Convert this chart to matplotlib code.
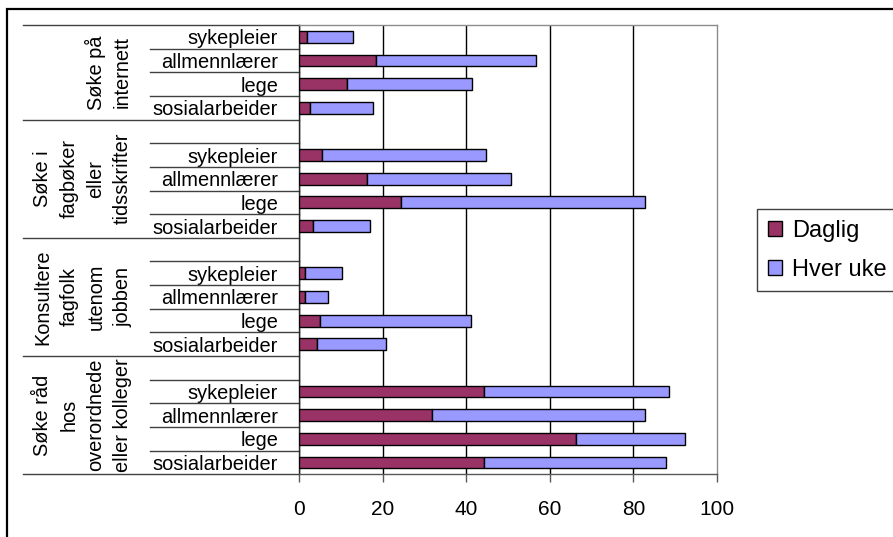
import matplotlib
matplotlib.use("Agg")
import matplotlib.pyplot as plt
from matplotlib.transforms import blended_transform_factory
from matplotlib.patches import Rectangle

plt.rcParams['font.family'] = ['Liberation Sans', 'DejaVu Sans']

# yrkesgrupper innenfor hver kategori (nederst til øverst)
yrker = ["sosialarbeider", "lege", "allmennlærer", "sykepleier"]
grupper = [
    "Søke råd\nhos\noverordnede\neller kolleger",
    "Konsultere\nfagfolk\nutenom\njobben",
    "Søke i\nfagbøker\neller\ntidsskrifter",
    "Søke på\ninternett",
]

# prosent daglig / hver uke
daglig_raad = [44.2, 66.3, 31.9, 44.2]
uke_raad = [43.5, 26.0, 50.8, 44.2]
daglig_fagfolk = [4.2, 5.0, 1.5, 1.5]
uke_fagfolk = [16.7, 36.1, 5.5, 8.9]
daglig_fagboker = [3.4, 24.3, 16.2, 5.4]
uke_fagboker = [13.6, 58.4, 34.6, 39.3]
daglig_internett = [2.6, 11.6, 18.5, 1.8]
uke_internett = [15.2, 29.9, 38.1, 11.0]

daglig = [daglig_raad, daglig_fagfolk, daglig_fagboker, daglig_internett]
uke = [uke_raad, uke_fagfolk, uke_fagboker, uke_internett]

W, H = 893, 537
fig = plt.figure(figsize=(W / 100, H / 100), dpi=100)
ax = fig.add_axes([299 / W, 1 - 474.3 / H, (717 - 299) / W, (474.3 - 25) / H])

# rader: en tom rad mellom gruppene
ypos, ylab, d_all, u_all = [], [], [], []
group_span = []
row = 0
for g in range(len(grupper)):
    start = row
    for j, yrke in enumerate(yrker):
        ypos.append(row)
        ylab.append(yrke)
        d_all.append(daglig[g][j])
        u_all.append(uke[g][j])
        row += 1
    if g < len(grupper) - 1:
        row += 1
    group_span.append((start - 0.5, row - 0.5))
n_rows = row

b1 = ax.barh(ypos, d_all, height=0.5, color='#993366', edgecolor='black', lw=1, zorder=3)
b2 = ax.barh(ypos, u_all, left=d_all, height=0.5, color='#9999FF', edgecolor='black', lw=1, zorder=3)

ax.set_xlim(0, 100)
ax.set_ylim(-0.5, n_rows - 0.5)
ax.set_xticks(range(0, 101, 20))
ax.set_yticks(ypos, ylab)
ax.tick_params(axis='y', length=0, pad=15, labelsize=14.4)
ax.tick_params(axis='x', length=6, direction='out', pad=12.5, labelsize=15, color='#595959', width=1)

ax.grid(axis='x', color='black', lw=1, zorder=1)
ax.xaxis.get_gridlines()[-1].set_visible(False)
ax.set_axisbelow(True)

ax.spines['left'].set_color('#262626')
ax.spines['bottom'].set_color('#595959')
ax.spines['top'].set_color('#8c8c8c')
ax.spines['right'].set_color('#8c8c8c')
for s in ax.spines.values():
    s.set_linewidth(1)

# skillelinjer i kategoriaksen
tr = blended_transform_factory(fig.transFigure, ax.transData)
outer_x, inner_x, axis_x = 23 / W, 150 / W, 299 / W
bounds = set()
for lo, hi in group_span:
    bounds.add(lo)
    bounds.add(hi)
for b in sorted(bounds):
    ax.plot([outer_x, axis_x], [b, b], transform=tr, clip_on=False, color='#404040', lw=1)
for y in range(n_rows - 1):
    b = y + 0.5
    if b not in bounds:
        ax.plot([inner_x, axis_x], [b, b], transform=tr, clip_on=False, color='#404040', lw=1)

for (lo, hi), navn in zip(group_span, grupper):
    ax.text(132 / W, (lo + hi) / 2, navn, transform=tr, rotation=90,
            ha='right', va='center', multialignment='center', fontsize=14.4,
            linespacing=1.5)

leg = fig.legend([b1, b2], ['Daglig', 'Hver uke'], loc='upper left',
                 bbox_to_anchor=(757 / W, 1 - 209 / H), fontsize=17,
                 frameon=True, fancybox=False, edgecolor='#404040', framealpha=1,
                 borderpad=0.45, handlelength=0.6, handleheight=0.6,
                 handletextpad=0.45, labelspacing=0.72, borderaxespad=0)
leg.get_frame().set_linewidth(1)

# ramme rundt diagramområdet
fig.patches.append(Rectangle((7 / W, -0.2), 1.2, 1.2 - 8.5 / H,
                             transform=fig.transFigure, fill=False,
                             edgecolor='black', lw=1.6))

fig.savefig('out.png', dpi=100)
